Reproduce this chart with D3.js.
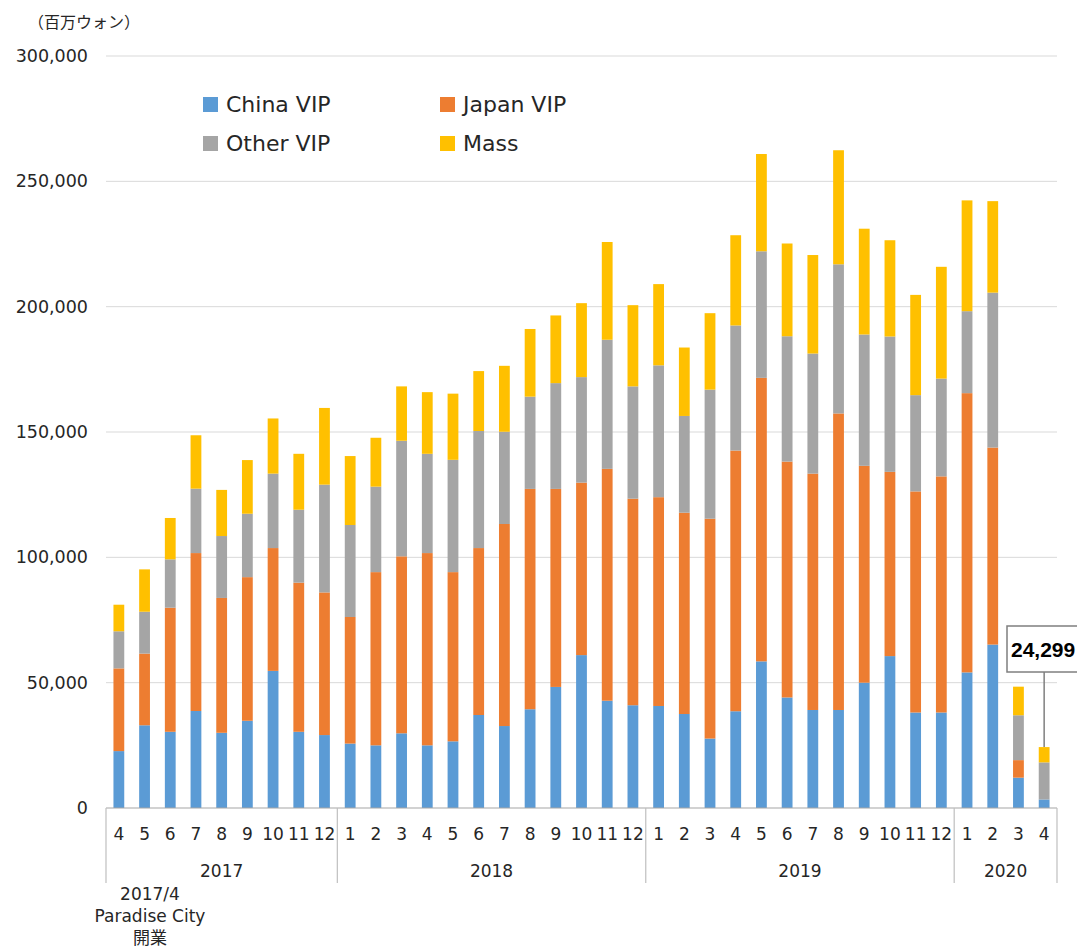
<!DOCTYPE html>
<html>
<head>
<meta charset="utf-8">
<script src="https://cdn.jsdelivr.net/npm/d3@7"></script>
<style>
  body { margin: 0; background: #fff; }
  svg { display: block; font-family: "DejaVu Sans", sans-serif; }
</style>
</head>
<body>
<svg id="chart" width="1077" height="947"></svg>
<script>
// months from 2017/4 to 2020/4
const months = ["4","5","6","7","8","9","10","11","12",
  "1","2","3","4","5","6","7","8","9","10","11","12",
  "1","2","3","4","5","6","7","8","9","10","11","12",
  "1","2","3","4"];
const years = [
  { label: "2017", from: 0, to: 8 },
  { label: "2018", from: 9, to: 20 },
  { label: "2019", from: 21, to: 32 },
  { label: "2020", from: 33, to: 36 }
];
const seriesNames = ["China VIP", "Japan VIP", "Other VIP", "Mass"];
const seriesColors = ["#5b9bd5", "#ed7d31", "#a5a5a5", "#ffc000"];

const chinaVip = [22700, 33000, 30400, 38700, 30000, 34800, 54700, 30400, 29100,
  25700, 25000, 29800, 25000, 26600, 37100, 32700, 39400, 48300, 61000, 42800, 41000,
  40700, 37500, 27700, 38600, 58500, 44100, 39100, 39100, 50000, 60600, 38100, 38100,
  54100, 65200, 12100, 3400];
const japanVip = [33000, 28600, 49500, 63000, 53800, 57300, 49000, 59500, 56900,
  50500, 69100, 70600, 76700, 67500, 66600, 80600, 87900, 79000, 68800, 92500, 82400,
  83300, 80300, 87700, 104000, 113100, 94100, 94300, 118300, 86500, 73500, 88200, 94200,
  111400, 78600, 7000, 0];
const otherVip = [14800, 16700, 19300, 25700, 24700, 25300, 29700, 29100, 43000,
  36700, 34100, 46100, 39600, 44800, 46700, 36800, 36800, 42200, 42100, 51500, 44800,
  52600, 38600, 51500, 49900, 50500, 50000, 47900, 59500, 52400, 54000, 38400, 39000,
  32700, 61800, 17900, 14800];
const mass = [10600, 16900, 16500, 21300, 18400, 21400, 22000, 22300, 30600,
  27500, 19500, 21700, 24600, 26400, 23900, 26300, 27000, 27000, 29500, 39000, 32400,
  32400, 27300, 30500, 36000, 38800, 37000, 39300, 45500, 42200, 38400, 40000, 44600,
  44200, 36500, 11400, 6099];

const yTicks = [0, 50000, 100000, 150000, 200000, 250000, 300000];
const unitLabel = "（百万ウォン）";
const noteLines = ["2017/4", "Paradise City", "開業"];

const margin = { top: 56, right: 20, bottom: 139, left: 106 };
const width = 1077, height = 947;

const svg = d3.select("#chart");

const rows = months.map((m, i) => ({
  i: i,
  "China VIP": chinaVip[i],
  "Japan VIP": japanVip[i],
  "Other VIP": otherVip[i],
  "Mass": mass[i]
}));

const x = d3.scaleBand()
  .domain(rows.map(d => d.i))
  .range([margin.left, width - margin.right])
  .paddingInner(0.58)
  .paddingOuter(0.29);

const y = d3.scaleLinear()
  .domain([0, 300000])
  .range([height - margin.bottom, margin.top]);

// gridlines
svg.append("g")
  .selectAll("line")
  .data(yTicks.slice(1))
  .enter().append("line")
  .attr("x1", margin.left)
  .attr("x2", width - margin.right)
  .attr("y1", d => y(d))
  .attr("y2", d => y(d))
  .attr("stroke", "#d9d9d9")
  .attr("stroke-width", 1);

// y axis labels
const yAxis = svg.append("g")
  .attr("transform", `translate(${margin.left},0)`)
  .call(d3.axisLeft(y).tickValues(yTicks).tickFormat(d3.format(",")).tickSize(0).tickPadding(18));
yAxis.select(".domain").remove();
yAxis.selectAll("text")
  .attr("font-size", 17.5)
  .attr("font-family", "DejaVu Sans, sans-serif")
  .attr("fill", "#262626");

svg.append("text")
  .attr("x", 28)
  .attr("y", 28)
  .attr("font-family", "Noto Sans CJK JP, sans-serif")
  .attr("font-size", 16)
  .attr("fill", "#262626")
  .text(unitLabel);

// stacked bars
const stack = d3.stack().keys(seriesNames);
const layers = stack(rows);

svg.append("g")
  .selectAll("g")
  .data(layers)
  .enter().append("g")
  .attr("fill", (d, k) => seriesColors[k])
  .selectAll("rect")
  .data(d => d)
  .enter().append("rect")
  .attr("x", d => x(d.data.i))
  .attr("width", x.bandwidth())
  .attr("y", d => y(d[1]))
  .attr("height", d => Math.max(0, y(d[0]) - y(d[1])));

// bottom axis
const base = y(0);
svg.append("line")
  .attr("x1", margin.left).attr("x2", width - margin.right)
  .attr("y1", base).attr("y2", base)
  .attr("stroke", "#a6a6a6").attr("stroke-width", 1.2);

const step = x.step();
const edge = i => margin.left + x.paddingOuter() * step - x.paddingInner() * step / 2 + i * step;
const seps = [0].concat(years.map(g => g.to + 1));
svg.append("g")
  .selectAll("line")
  .data(seps)
  .enter().append("line")
  .attr("x1", d => d === 0 ? margin.left : (d === months.length ? width - margin.right : edge(d)))
  .attr("x2", d => d === 0 ? margin.left : (d === months.length ? width - margin.right : edge(d)))
  .attr("y1", base)
  .attr("y2", base + 75)
  .attr("stroke", "#bfbfbf")
  .attr("stroke-width", 1.2);

svg.append("g")
  .selectAll("text")
  .data(months)
  .enter().append("text")
  .attr("x", (d, i) => x(i) + x.bandwidth() / 2)
  .attr("y", base + 32)
  .attr("text-anchor", "middle")
  .attr("font-size", 17)
  .attr("fill", "#262626")
  .text(d => d);

svg.append("g")
  .selectAll("text")
  .data(years)
  .enter().append("text")
  .attr("x", d => (x(d.from) + x(d.to) + x.bandwidth()) / 2)
  .attr("y", base + 69)
  .attr("text-anchor", "middle")
  .attr("font-size", 17)
  .attr("fill", "#262626")
  .text(d => d.label);

svg.append("g")
  .selectAll("text")
  .data(noteLines)
  .enter().append("text")
  .attr("x", 150)
  .attr("y", (d, i) => 900 + i * 22)
  .attr("text-anchor", "middle")
  .attr("font-size", 17)
  .attr("font-family", "DejaVu Sans, Noto Sans CJK JP, sans-serif")
  .attr("fill", "#262626")
  .text(d => d);

// legend
const legendPos = [[203, 97], [440, 97], [203, 136], [440, 136]];
const legend = svg.append("g")
  .selectAll("g")
  .data(seriesNames)
  .enter().append("g")
  .attr("transform", (d, k) => `translate(${legendPos[k][0]},${legendPos[k][1]})`);
legend.append("rect")
  .attr("width", 15).attr("height", 15)
  .attr("fill", (d, k) => seriesColors[k]);
legend.append("text")
  .attr("x", 23).attr("y", 15)
  .attr("font-size", 22)
  .attr("fill", "#262626")
  .text(d => d);

// callout for the last month
const last = rows.length - 1;
const lastTotal = chinaVip[last] + japanVip[last] + otherVip[last] + mass[last];
const cx = x(last) + x.bandwidth() / 2;
svg.append("line")
  .attr("x1", cx).attr("x2", cx)
  .attr("y1", 672).attr("y2", y(lastTotal))
  .attr("stroke", "#7f7f7f").attr("stroke-width", 1.5);
svg.append("rect")
  .attr("x", 1007).attr("y", 626)
  .attr("width", 90).attr("height", 46)
  .attr("fill", "#fff")
  .attr("stroke", "#7f7f7f").attr("stroke-width", 1.5);
svg.append("text")
  .attr("x", 1011).attr("y", 657)
  .attr("font-family", "Liberation Sans, Arial, sans-serif")
  .attr("font-size", 21)
  .attr("font-weight", "bold")
  .attr("fill", "#000")
  .text(d3.format(",")(lastTotal));
</script>
</body>
</html>
